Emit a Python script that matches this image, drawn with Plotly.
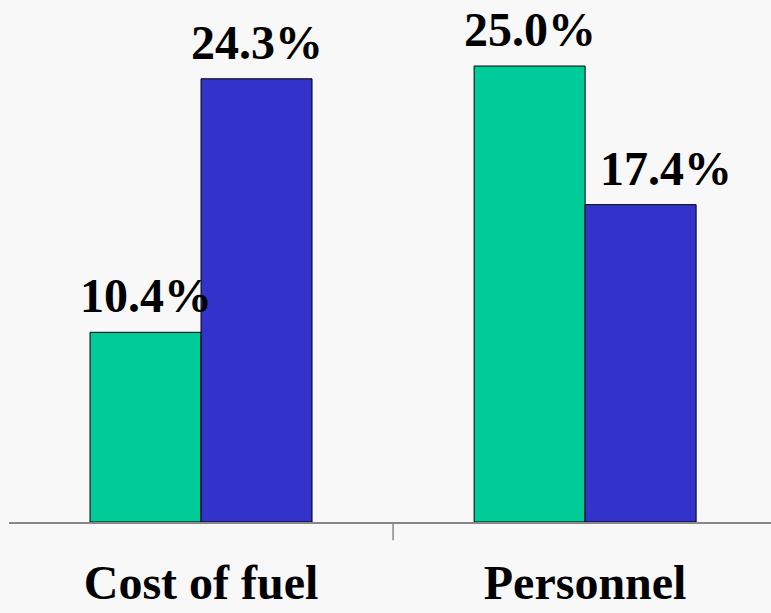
import plotly.graph_objects as go

# Chart data
categories = ["Cost of fuel", "Personnel"]
values_a = [10.4, 25.0]
values_b = [24.3, 17.4]
labels_a = [f"{v:.1f}%" for v in values_a]
labels_b = [f"{v:.1f}%" for v in values_b]

GREEN = "#00CC99"
BLUE = "#3333CC"
BG = "#F8F8F8"
FONT = "Liberation Serif"
BAR_PX = 111          # width of one bar in pixels (for label offsets)
LABEL_NUDGE = {("b", 1): 25}   # extra horizontal nudge for a crowded label

fig = go.Figure()
for vals, color in [(values_a, GREEN), (values_b, BLUE)]:
    fig.add_trace(go.Bar(
        x=categories, y=vals,
        marker=dict(color=color, line=dict(color="black", width=1)),
        showlegend=False, hoverinfo="skip",
    ))

# value labels above each bar
for key, vals, labels, side in [("a", values_a, labels_a, -1), ("b", values_b, labels_b, 1)]:
    for i, (cat, v, lab) in enumerate(zip(categories, vals, labels)):
        fig.add_annotation(
            x=cat, y=v, text=lab, showarrow=False,
            xanchor="center", yanchor="bottom",
            xshift=side * BAR_PX / 2 + LABEL_NUDGE.get((key, i), 0), yshift=8,
            font=dict(family=FONT, size=48, color="black", weight="bold"),
        )

# middle tick between the two groups
fig.add_shape(type="line", xref="x", yref="paper",
              x0=0.5, x1=0.5, y0=0, y1=-0.035,
              line=dict(color="#888888", width=1.5))

fig.update_layout(
    width=771, height=613,
    margin=dict(l=9, r=0, t=0, b=91),
    paper_bgcolor=BG, plot_bgcolor=BG,
    barmode="group", bargap=0.422, bargroupgap=0,
    xaxis=dict(
        type="category", range=[-0.5, 1.484], automargin=False,
        showline=True, linecolor="#888888", linewidth=2,
        ticks="outside", ticklen=17, tickcolor="rgba(0,0,0,0)",
        tickfont=dict(family=FONT, size=48, color="black", weight="bold"),
        showgrid=False, zeroline=False,
    ),
    yaxis=dict(range=[0, 28.62], visible=False, showgrid=False,
               zeroline=False, automargin=False),
)

fig.write_html("out.html")
